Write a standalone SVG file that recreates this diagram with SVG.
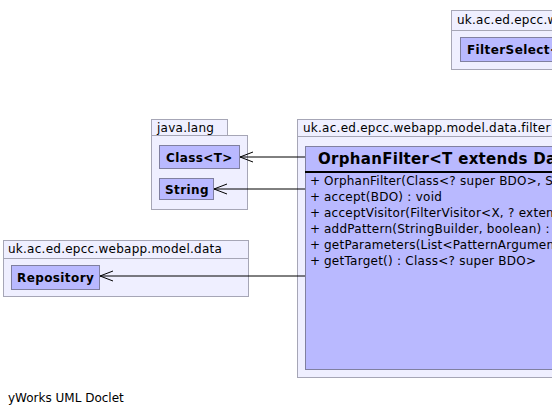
<svg xmlns="http://www.w3.org/2000/svg" width="552" height="415" viewBox="0 0 552 415">
<style>
.pkg{fill:#efefff;stroke:#a6a6b6;stroke-width:1}
.cls{fill:#b9b9ff;stroke:#8080a0;stroke-width:1}
.t{font-family:"DejaVu Sans",sans-serif;font-size:12px;letter-spacing:0.25px;fill:#000}
.f{font-family:"DejaVu Sans",sans-serif;font-size:12px;fill:#000}
.b{font-family:"DejaVu Sans",sans-serif;font-size:12px;font-weight:bold;letter-spacing:0.4px;fill:#000}
.h{font-family:"DejaVu Sans",sans-serif;font-size:15px;font-weight:bold;letter-spacing:0.3px;fill:#000}
.e{stroke:#000;stroke-width:1;fill:none}
</style>
<defs>
<marker id="open" markerWidth="16" markerHeight="12" refX="14" refY="6" orient="auto" markerUnits="userSpaceOnUse">
<path d="M1,1 L14,6 L1,11" fill="none" stroke="#000" stroke-width="1"/>
</marker>
</defs>
<g id="pkg-filter-select">
<rect class="pkg" x="451.5" y="10.5" width="110" height="20"/>
<rect class="pkg" x="451.5" y="30.5" width="110" height="39"/>
<text class="t" x="457" y="24">uk.ac.ed.epcc.webapp.model.data.filter</text>
<g id="FilterSelect">
<rect class="cls" x="460.5" y="37.5" width="110" height="24"/>
<text class="b" x="467" y="54">FilterSelect&lt;BDO&gt;</text>
</g>
</g>
<g id="pkg-java-lang">
<rect class="pkg" x="151.5" y="119.5" width="76" height="16"/>
<rect class="pkg" x="151.5" y="135.5" width="96" height="74"/>
<text class="t" x="157" y="132">java.lang</text>
<g id="ClassT">
<rect class="cls" x="159.5" y="145.5" width="80" height="23"/>
<text class="b" x="166" y="162">Class&lt;T&gt;</text>
</g>
<g id="String">
<rect class="cls" x="159.5" y="178.5" width="54" height="21"/>
<text class="b" x="165" y="194">String</text>
</g>
</g>
<g id="pkg-model-data">
<rect class="pkg" x="3.5" y="240.5" width="245" height="18"/>
<rect class="pkg" x="3.5" y="258.5" width="245" height="38"/>
<text class="t" x="8" y="253">uk.ac.ed.epcc.webapp.model.data</text>
<g id="Repository">
<rect class="cls" x="11.5" y="265.5" width="88" height="24"/>
<text class="b" x="17" y="282">Repository</text>
</g>
</g>
<g id="pkg-filter">
<rect class="pkg" x="297.5" y="119.5" width="270" height="17"/>
<rect class="pkg" x="297.5" y="136.5" width="270" height="241"/>
<text class="t" x="303" y="132">uk.ac.ed.epcc.webapp.model.data.filter</text>
<g id="OrphanFilter">
<rect class="cls" x="305.5" y="146.5" width="260" height="223"/>
<text class="h" x="318" y="164">OrphanFilter&lt;T extends DataObject&gt;</text>
<line x1="305" y1="172" x2="560" y2="172" stroke="#000" stroke-width="2"/>
<text class="t" x="310" y="185">+</text><text class="t" x="324" y="185">OrphanFilter(Class&lt;? super BDO&gt;, String, Repository)</text>
<text class="t" x="310" y="201">+</text><text class="t" x="324" y="201">accept(BDO) : void</text>
<text class="t" x="310" y="217">+</text><text class="t" x="324" y="217">acceptVisitor(FilterVisitor&lt;X, ? extends BDO&gt;)</text>
<text class="t" x="310" y="233">+</text><text class="t" x="324" y="233">addPattern(StringBuilder, boolean) : StringBuilder</text>
<text class="t" x="310" y="249">+</text><text class="t" x="324" y="249">getParameters(List&lt;PatternArgument&gt;)</text>
<text class="t" x="310" y="265">+</text><text class="t" x="324" y="265">getTarget() : Class&lt;? super BDO&gt;</text>
</g>
</g>
<g id="connectors">
<line class="e" x1="305" y1="157" x2="240" y2="157" marker-end="url(#open)"/>
<line class="e" x1="305" y1="189" x2="214" y2="189" marker-end="url(#open)"/>
<line class="e" x1="305" y1="276" x2="100" y2="276" marker-end="url(#open)"/>
</g>
<text class="f" x="8" y="402">yWorks UML Doclet</text>
</svg>
